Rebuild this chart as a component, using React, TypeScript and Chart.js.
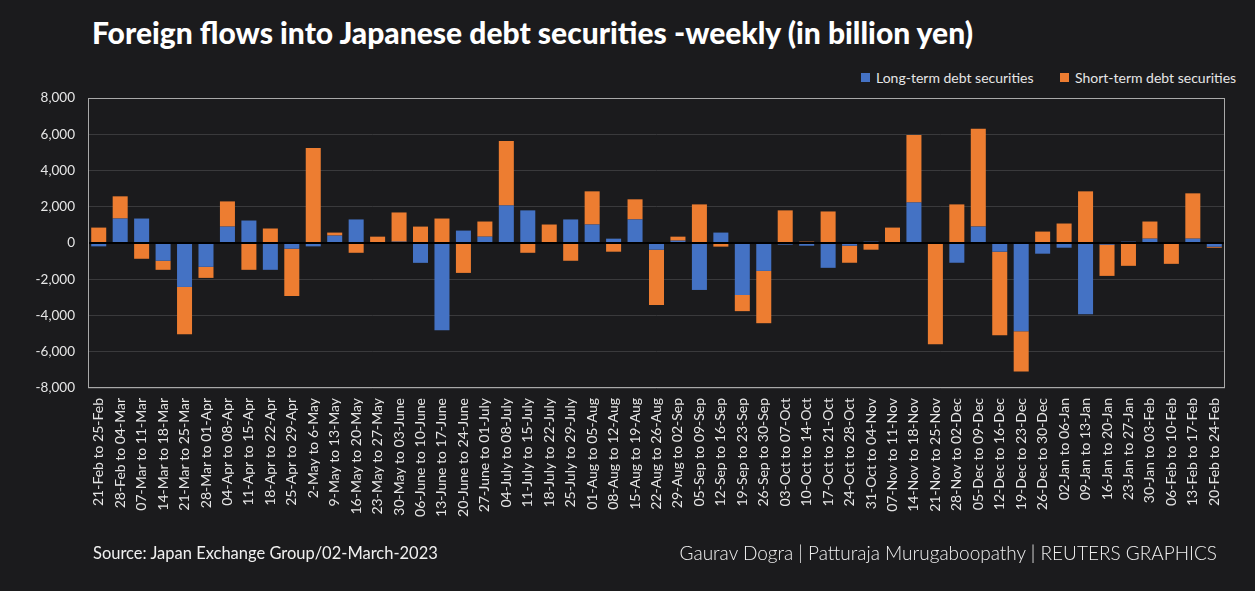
import React, { useEffect, useRef } from "react";
import { Chart, registerables } from "chart.js";

Chart.register(...registerables);

const categories = [
  "21-Feb to 25-Feb", "28-Feb to 04-Mar", "07-Mar to 11-Mar", "14-Mar to 18-Mar", "21-Mar to 25-Mar",
  "28-Mar to 01-Apr", "04-Apr to 08-Apr", "11-Apr to 15-Apr", "18-Apr to 22-Apr", "25-Apr to 29-Apr",
  "2-May to 6-May", "9-May to 13-May", "16-May to 20-May", "23-May to 27-May", "30-May to 03-June",
  "06-June to 10-June", "13-June to 17-June", "20-June to 24-June", "27-June to 01-July", "04-July to 08-July",
  "11-July to 15-July", "18-July to 22-July", "25-July to 29-July", "01-Aug to 05-Aug", "08-Aug to 12-Aug",
  "15-Aug to 19-Aug", "22-Aug to 26-Aug", "29-Aug to 02-Sep", "05-Sep to 09-Sep", "12-Sep to 16-Sep",
  "19-Sep to 23-Sep", "26-Sep to 30-Sep", "03-Oct to 07-Oct", "10-Oct to 14-Oct", "17-Oct to 21-Oct",
  "24-Oct to 28-Oct", "31-Oct to 04-Nov", "07-Nov to 11-Nov", "14-Nov to 18-Nov", "21-Nov to 25-Nov",
  "28-Nov to 02-Dec", "05-Dec to 09-Dec", "12-Dec to 16-Dec", "19-Dec to 23-Dec", "26-Dec to 30-Dec",
  "02-Jan to 06-Jan", "09-Jan to 13-Jan", "16-Jan to 20-Jan", "23-Jan to 27-Jan", "30-Jan to 03-Feb",
  "06-Feb to 10-Feb", "13-Feb to 17-Feb", "20-Feb to 24-Feb",
];

const longTerm = [
  -185, 1350, 1350, -980, -2425, -1315, 905, 1240, -1480, -315,
  -185, 410, 1300, 0, 75, -1095, -4815, 685, 350, 2075,
  1800, 0, 1300, 1020, 240, 1300, -370, 130, -2590, 575,
  -2870, -1540, -90, -150, -1370, -150, 75, 0, 2240, 0,
  -1090, 905, -480, -4870, -590, -260, -3925, -90, 75, 240,
  0, 240, -205,
];

const shortTerm = [
  850, 1225, -870, -500, -2610, -610, 1390, -1480, 800, -2610,
  5240, 165, -540, 350, 1610, 905, 1350, -1650, 835, 3555,
  -540, 1020, -980, 1830, -480, 1110, -3055, 220, 2130, -200,
  -890, -2885, 1800, 75, 1740, -940, -370, 850, 3720, -5590,
  2130, 5395, -4610, -2220, 630, 1075, 2850, -1725, -1260, 945,
  -1150, 2500, -55,
];

const seriesNames = ["Long-term debt securities", "Short-term debt securities"];
const seriesColors = ["#4472c4", "#ed7d31"];

const titleText = "Foreign flows into Japanese debt securities -weekly (in billion yen)";
const sourceText = "Source: Japan Exchange Group/02-March-2023";
const creditText = "Gaurav Dogra | Patturaja Murugaboopathy | REUTERS GRAPHICS";

const BG = "#1b1b1d";
const FONT = "Lato, 'Open Sans', sans-serif";

export default function App() {
  const ref = useRef<HTMLCanvasElement | null>(null);

  useEffect(() => {
    document.body.style.margin = "0";
    document.body.style.background = BG;
    const canvas = ref.current;
    if (!canvas) return;

    const framePlugin = {
      id: "frame",
      afterDatasetsDraw(chart: any) {
        const { ctx, chartArea, scales } = chart;
        const y0 = scales.y.getPixelForValue(0);
        ctx.save();
        ctx.strokeStyle = "#000000";
        ctx.lineWidth = 2;
        ctx.beginPath();
        ctx.moveTo(chartArea.left, y0);
        ctx.lineTo(chartArea.right, y0);
        ctx.stroke();
        ctx.strokeStyle = "#a9a9a9";
        ctx.lineWidth = 1;
        ctx.strokeRect(chartArea.left + 0.5, chartArea.top + 0.5, chartArea.right - chartArea.left - 1, chartArea.bottom - chartArea.top - 1);
        ctx.restore();
      },
    };

    const chart = new Chart(canvas, {
      type: "bar",
      data: {
        labels: categories,
        datasets: [
          { label: seriesNames[0], data: longTerm, backgroundColor: seriesColors[0], stack: "s" },
          { label: seriesNames[1], data: shortTerm, backgroundColor: seriesColors[1], stack: "s" },
        ],
      },
      options: {
        animation: false,
        responsive: false,
        maintainAspectRatio: false,
        layout: { padding: { left: 0, right: 30, top: 98, bottom: 0 } },
        plugins: { legend: { display: false }, tooltip: { enabled: false }, title: { display: false } },
        datasets: { bar: { categoryPercentage: 1.0, barPercentage: 0.7 } },
        scales: {
          x: {
            stacked: true,
            grid: { display: false },
            border: { display: false },
            ticks: {
              color: "#e6e6e6",
              font: { family: FONT, size: 14 },
              minRotation: 90,
              maxRotation: 90,
              autoSkip: false,
              padding: 2,
            },
            afterFit(scale: any) {
              scale.height = 591 - 388;
            },
          },
          y: {
            stacked: true,
            min: -8000,
            max: 8000,
            grid: { color: "#3a3a3c", drawTicks: false },
            border: { display: false },
            ticks: {
              stepSize: 2000,
              color: "#e6e6e6",
              font: { family: FONT, size: 13.5 },
              padding: 13,
              callback: (v: any) => Number(v).toLocaleString("en-US"),
            },
            afterFit(scale: any) {
              scale.width = 88;
            },
          },
        },
      },
      plugins: [framePlugin],
    });
    return () => chart.destroy();
  }, []);

  const legendItem = (i: number, left: number) => (
    <div style={{ position: "absolute", left, top: 69, display: "flex", alignItems: "center", fontFamily: FONT, fontSize: 14, color: "#e6e6e6", whiteSpace: "nowrap" }}>
      <span style={{ display: "inline-block", width: 9, height: 9, background: seriesColors[i], marginRight: 6 }} />
      {seriesNames[i]}
    </div>
  );

  return (
    <div style={{ position: "fixed", left: 0, top: 0, width: 1255, height: 591, background: BG, overflow: "hidden" }}>
      <div style={{ position: "absolute", left: 92, top: 14, fontFamily: FONT, fontWeight: 900, fontSize: 30, color: "#ffffff", whiteSpace: "nowrap" }}>
        {titleText}
      </div>
      {legendItem(0, 861)}
      {legendItem(1, 1060)}
      <canvas ref={ref} width={1255} height={591} style={{ position: "absolute", left: 0, top: 0 }} />
      <div style={{ position: "absolute", left: 93, top: 543, fontFamily: FONT, fontSize: 16.5, color: "#f0f0f0", whiteSpace: "nowrap" }}>
        {sourceText}
      </div>
      <div style={{ position: "absolute", right: 38, top: 541, fontFamily: FONT, fontWeight: 300, fontSize: 19, color: "#f0f0f0", whiteSpace: "nowrap" }}>
        {creditText}
      </div>
    </div>
  );
}
